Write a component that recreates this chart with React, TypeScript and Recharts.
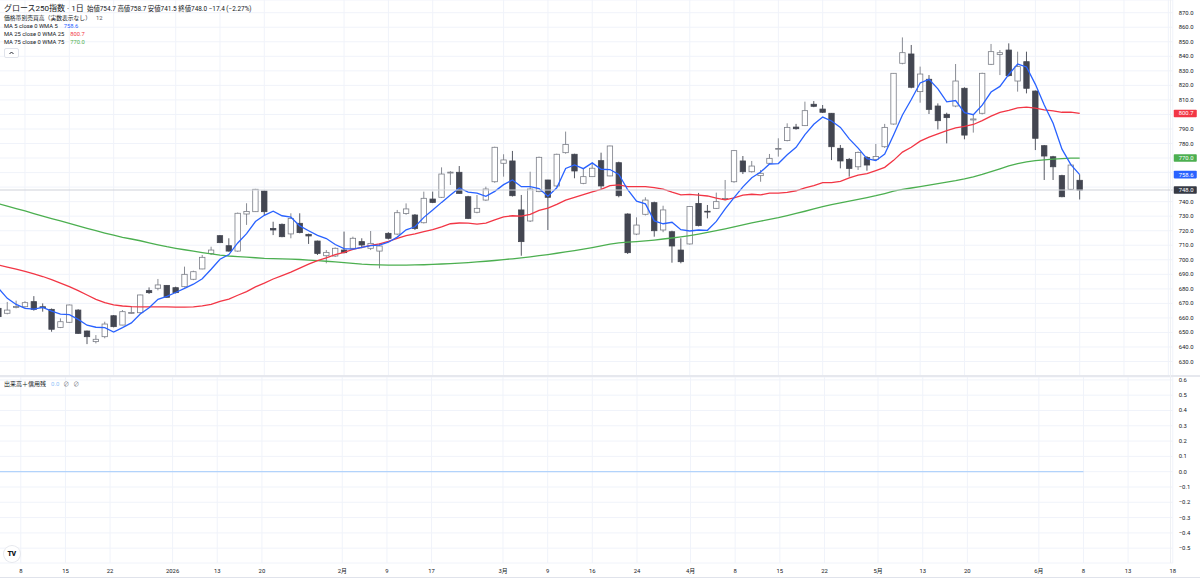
import React from 'react';
import {
  ComposedChart,
  Bar,
  Line,
  XAxis,
  YAxis,
  CartesianGrid,
  ReferenceLine
} from 'recharts';

// trading days shown on the chart
const decDays = [3, 4, 5, 8, 9, 10, 11, 12, 15, 16, 17, 18, 19, 22, 23, 24, 25, 26, 29, 30];
const janDays = [5, 6, 7, 8, 9, 13, 14, 15, 16, 19, 20, 21, 22, 23, 26, 27, 28, 29, 30];
const febDays = [2, 3, 4, 5, 6, 9, 10, 12, 13, 16, 17, 18, 19, 20, 24, 25, 26, 27];
const marDays = [2, 3, 4, 5, 6, 9, 10, 11, 12, 13, 16, 17, 18, 19, 23, 24, 25, 26, 27, 30, 31];
const aprDays = [1, 2, 3, 6, 7, 8, 9, 10, 13, 14, 15, 16, 17, 20, 21, 22, 23, 24, 27, 28, 30];
const mayDays = [1, 7, 8, 11, 12, 13, 14, 15, 18, 19, 20, 21, 22, 25, 26, 27, 28, 29];
const junDays = [1, 2, 3, 4, 5, 8];
const futureSlots = ['+1', '+2', '+3', '+4', '+5', '+6', '+7', '+8', '+9', '+10'];

const openP = [
  666.6, 663.2, 667.3, 667.7, 671.2, 667.7, 665.9, 653.5, 657.0, 665.4,
  651.0, 643.7, 647.1, 661.5, 655.1, 663.5, 663.6, 678.8, 680.4, 682.4,
  680.8, 681.5, 686.6, 693.7, 704.4, 716.6, 709.7, 706.0, 731.5, 733.1,
  747.3, 721.6, 724.4, 717.8, 725.1, 717.5, 712.9, 702.8, 702.6, 706.7,
  707.9, 712.5, 707.9, 706.0, 718.2, 717.7, 731.9, 730.8, 725.5, 741.8,
  743.0, 759.7, 760.2, 743.4, 732.7, 741.1, 753.7, 766.4, 768.0, 734.3,
  726.7, 746.9, 754.9, 750.8, 773.7, 772.6, 752.6, 757.2, 768.2, 757.7,
  766.8, 731.5, 717.7, 731.3, 739.3, 720.5, 719.3, 706.7, 710.9, 738.8,
  733.4, 735.4, 741.6, 753.7, 768.0, 760.6, 757.9, 766.4, 776.2, 782.0,
  791.3, 792.3, 807.0, 803.7, 800.8, 776.7, 769.1, 764.0, 770.3, 769.1,
  777.8, 793.4, 835.2, 841.6, 815.7, 824.2, 805.8, 800.1, 805.8, 818.0,
  796.2, 800.8, 834.5, 841.2, 844.3, 823.0, 836.3, 816.1, 778.5, 770.9,
  757.9, 748.5, 754.7
];
const highP = [
  668.0, 671.0, 671.9, 671.5, 675.0, 670.0, 666.5, 659.7, 669.2, 666.0,
  651.3, 648.2, 657.4, 662.0, 665.4, 668.2, 676.0, 681.0, 686.8, 682.6,
  681.5, 695.3, 692.5, 703.3, 709.0, 717.0, 714.8, 732.5, 738.9, 748.8,
  747.6, 726.2, 725.0, 732.0, 732.0, 718.0, 713.2, 706.7, 708.5, 719.4,
  715.9, 714.8, 719.8, 711.3, 719.0, 734.3, 738.8, 731.5, 746.9, 746.9,
  763.6, 761.0, 764.5, 744.0, 744.6, 750.3, 777.8, 772.6, 774.9, 744.6,
  760.6, 771.0, 755.0, 773.0, 788.2, 773.0, 763.0, 766.4, 773.7, 778.5,
  767.5, 732.0, 729.2, 743.0, 740.0, 737.2, 720.0, 714.8, 737.0, 746.0,
  737.7, 746.2, 754.9, 775.5, 771.4, 768.0, 761.8, 772.8, 783.6, 793.9,
  793.5, 808.8, 809.2, 806.5, 801.0, 779.0, 770.0, 774.5, 771.4, 779.7,
  793.5, 828.5, 853.0, 847.8, 832.9, 827.1, 807.6, 801.2, 834.7, 818.7,
  799.6, 828.7, 848.5, 844.3, 848.9, 843.2, 843.2, 816.5, 779.0, 771.5,
  758.5, 766.0, 758.7
];
const lowP = [
  659.0, 662.5, 666.6, 667.0, 665.0, 664.3, 650.5, 653.0, 656.5, 649.0,
  642.0, 642.5, 646.0, 653.5, 655.0, 662.7, 663.0, 676.5, 679.0, 674.0,
  676.8, 681.0, 686.0, 693.5, 703.3, 711.5, 705.6, 705.5, 724.0, 733.0,
  730.8, 717.0, 715.5, 714.8, 718.2, 710.9, 703.3, 697.6, 702.0, 704.4,
  706.7, 707.9, 706.7, 694.1, 714.0, 717.0, 731.0, 720.5, 725.0, 739.0,
  742.5, 751.5, 745.5, 728.0, 732.0, 740.5, 753.0, 757.2, 743.5, 702.8,
  726.0, 746.5, 720.5, 750.0, 773.0, 756.1, 752.0, 757.0, 748.0, 757.5,
  743.0, 704.0, 717.0, 730.5, 715.9, 719.0, 698.0, 697.6, 710.5, 723.0,
  728.5, 735.0, 741.0, 753.0, 759.0, 760.0, 753.7, 766.0, 771.0, 781.5,
  789.5, 792.0, 805.0, 801.0, 768.6, 762.9, 757.2, 761.8, 761.3, 768.6,
  777.0, 793.0, 834.5, 818.0, 808.1, 800.3, 789.7, 780.1, 805.0, 782.9,
  787.5, 800.0, 834.0, 827.1, 826.0, 815.7, 814.5, 775.5, 754.9, 754.9,
  743.0, 748.0, 741.5
];
const closeP = [
  660.9, 665.4, 667.8, 670.5, 665.9, 667.0, 652.2, 657.4, 668.9, 649.4,
  647.1, 645.3, 655.8, 654.0, 664.3, 663.7, 675.8, 677.4, 682.7, 674.2,
  677.4, 690.0, 691.8, 701.7, 706.7, 711.8, 706.0, 732.0, 733.3, 748.5,
  733.1, 720.5, 715.9, 728.5, 718.7, 716.4, 704.4, 705.1, 707.9, 704.9,
  714.8, 710.2, 711.3, 709.5, 714.8, 732.4, 735.0, 721.6, 742.3, 739.5,
  759.0, 760.3, 745.7, 728.5, 735.4, 748.7, 777.4, 768.7, 744.1, 712.5,
  748.7, 770.5, 743.0, 772.6, 779.4, 761.1, 757.2, 763.0, 750.8, 778.3,
  744.1, 704.9, 723.9, 741.1, 720.0, 734.3, 709.5, 698.7, 736.6, 723.5,
  733.0, 740.0, 742.2, 775.1, 760.6, 764.5, 759.5, 769.8, 776.6, 791.1,
  790.2, 802.6, 805.6, 801.5, 777.8, 768.0, 762.9, 773.9, 765.2, 771.0,
  791.1, 828.3, 842.5, 818.7, 827.8, 803.5, 795.7, 797.8, 823.0, 785.8,
  796.9, 828.3, 843.2, 842.5, 826.7, 832.9, 818.0, 783.6, 771.4, 764.0,
  743.4, 765.2, 748.0
];
const ma5 = [
  680.4, 673.5, 669.3, 666.6, 666.1, 667.3, 664.7, 662.6, 662.3, 659.0,
  655.0, 653.6, 653.3, 650.3, 653.3, 656.6, 662.7, 667.0, 672.8, 674.8,
  677.5, 680.3, 683.2, 687.0, 693.5, 700.4, 703.6, 711.6, 718.0, 726.3,
  730.6, 733.5, 730.3, 729.3, 723.3, 720.0, 716.8, 714.6, 710.5, 707.7,
  707.4, 708.6, 709.8, 710.1, 712.1, 715.6, 720.6, 722.7, 729.2, 734.2,
  739.5, 744.5, 749.4, 746.6, 745.8, 743.7, 747.1, 751.7, 754.9, 750.3,
  750.3, 748.9, 743.8, 749.5, 762.8, 765.3, 762.7, 766.7, 762.3, 762.1,
  758.7, 748.2, 740.4, 738.5, 726.8, 724.8, 725.8, 720.7, 719.8, 720.5,
  720.3, 726.4, 735.1, 742.8, 750.2, 756.5, 760.4, 765.9, 766.2, 772.3,
  777.4, 786.1, 793.2, 798.2, 795.5, 791.1, 783.2, 776.8, 769.6, 768.2,
  772.8, 785.9, 799.6, 810.3, 821.7, 824.2, 817.6, 808.7, 809.6, 801.2,
  799.8, 806.4, 815.4, 819.3, 827.5, 834.7, 832.7, 820.7, 806.5, 794.0,
  776.1, 765.5, 758.6
];
const ma25 = [
  696.4, 695.0, 693.5, 692.0, 690.3, 688.5, 686.3, 684.0, 681.5, 678.8,
  675.8, 672.8, 670.5, 669.0, 668.2, 667.8, 667.6, 667.6, 667.6, 667.6,
  667.5, 667.4, 667.6, 668.3, 669.3, 671.4, 673.0, 675.6, 678.1, 681.4,
  684.0, 686.8, 689.1, 691.5, 694.3, 697.0, 699.4, 701.4, 703.5, 705.1,
  707.2, 708.6, 709.9, 711.0, 712.6, 714.8, 716.6, 717.8, 719.4, 720.7,
  722.6, 724.8, 725.3, 725.2, 724.6, 725.3, 727.5, 729.6, 730.3, 730.0,
  731.3, 734.0, 735.5, 738.1, 741.0, 742.9, 744.8, 746.8, 748.5, 751.0,
  751.5, 750.3, 750.4, 750.3, 749.6, 748.6, 746.5, 744.7, 745.0, 744.5,
  743.9, 742.4, 741.3, 742.6, 744.5, 745.1, 744.7, 745.8, 745.9, 746.4,
  747.5, 749.4, 751.1, 753.1, 753.1, 754.0, 756.3, 758.3, 759.3, 761.4,
  763.6, 768.4, 774.1, 777.4, 781.6, 784.4, 786.6, 788.9, 790.8, 791.8,
  793.1, 795.8, 798.8, 801.4, 802.8, 804.5, 805.1, 804.3, 803.1, 802.5,
  801.5, 801.6, 800.7
];
const ma75 = [
  738.6, 736.9, 735.2, 733.6, 731.8, 730.1, 728.4, 726.7, 725.0, 723.4,
  721.7, 720.0, 718.4, 716.9, 715.4, 714.3, 713.1, 711.7, 710.3, 709.0,
  707.9, 706.9, 705.9, 704.9, 704.0, 703.2, 702.6, 702.2, 701.8, 701.4,
  701.0, 700.8, 700.6, 700.4, 700.2, 699.8, 699.4, 699.0, 698.5, 698.0,
  697.5, 697.0, 696.7, 696.5, 696.4, 696.4, 696.4, 696.5, 696.6, 696.8,
  697.1, 697.4, 697.7, 698.1, 698.5, 699.0, 699.5, 700.1, 700.7, 701.3,
  702.0, 702.8, 703.6, 704.5, 705.4, 706.3, 707.3, 708.4, 709.6, 710.8,
  711.6, 712.1, 712.5, 713.0, 713.6, 714.3, 715.0, 715.8, 716.7, 717.7,
  718.8, 720.0, 721.3, 722.7, 724.1, 725.4, 726.6, 727.8, 729.0, 730.4,
  731.9, 733.4, 735.0, 736.5, 737.9, 739.2, 740.4, 741.6, 742.8, 744.1,
  745.6, 747.2, 748.4, 749.4, 750.4, 751.4, 752.4, 753.4, 754.4, 755.6,
  757.0, 758.7, 760.7, 762.6, 764.6, 766.2, 767.4, 768.2, 768.8, 769.2,
  769.6, 769.9, 770.0
];

const xTickLabels: [string, string][] = [
  ['2025-12-8', '8'], ['2025-12-15', '15'], ['2025-12-22', '22'], ['2026-1-5', '2026'],
  ['2026-1-13', '13'], ['2026-1-20', '20'], ['2026-2-2', '2月'], ['2026-2-9', '9'],
  ['2026-2-17', '17'], ['2026-3-2', '3月'], ['2026-3-9', '9'], ['2026-3-16', '16'],
  ['2026-3-24', '24'], ['2026-4-1', '4月'], ['2026-4-8', '8'], ['2026-4-15', '15'],
  ['2026-4-22', '22'], ['2026-5-1', '5月'], ['2026-5-13', '13'], ['2026-5-20', '20'],
  ['2026-6-1', '6月'], ['2026-6-8', '8'], ['+5', '13'], ['+10', '18']
];
const priceTicks = [630, 640, 650, 660, 670, 680, 690, 700, 710, 720, 730, 740, 750,
  760, 770, 780, 790, 800, 810, 820, 830, 840, 850, 860, 870];
const volTicks = [0.6, 0.5, 0.4, 0.3, 0.2, 0.1, 0, -0.1, -0.2, -0.3, -0.4, -0.5];

const dates = [
  ...decDays.map((d) => `2025-12-${d}`),
  ...janDays.map((d) => `2026-1-${d}`),
  ...febDays.map((d) => `2026-2-${d}`),
  ...marDays.map((d) => `2026-3-${d}`),
  ...aprDays.map((d) => `2026-4-${d}`),
  ...mayDays.map((d) => `2026-5-${d}`),
  ...junDays.map((d) => `2026-6-${d}`)
];

const rows = [...dates, ...futureSlots].map((d, i) =>
  i < dates.length
    ? {
        d,
        range: [lowP[i], highP[i]],
        o: openP[i],
        h: highP[i],
        l: lowP[i],
        c: closeP[i],
        ma5: ma5[i],
        ma25: ma25[i],
        ma75: ma75[i],
        vol: 0
      }
    : { d }
);

const tickMap: Record<string, string> = Object.fromEntries(xTickLabels);
const tickKeys = xTickLabels.map((t) => t[0]);
const last = dates.length - 1;
// axis tags sit on top of these levels, the scale labels under them are hidden
const tagValues = [ma25[last], ma75[last], ma5[last], closeP[last]];

// layout (page px)
const BAR = 8.863;
const SHIFT = 5.78;
const PLOT_W = rows.length * BAR;
const AXIS_W = 40;
const CHART_W = PLOT_W + AXIS_W;
const MAIN_H = 376;
const LOW_TOP = 377;
const LOW_H = 203;
const BODY = 5.4;

const FONT = 'Roboto, "Noto Sans CJK JP", sans-serif';
const TXT = '#131722';
const BLUE = '#2962ff';
const RED = '#f23645';
const GREEN = '#4caf50';
const GRID = '#f0f3fa';

function Candle(props: any) {
  const { x, y, width, height, payload } = props;
  if (!payload || payload.o == null || !isFinite(y)) return null;
  const cx = x + width / 2;
  const span = payload.h - payload.l;
  const k = span > 0 ? height / span : 0;
  const yO = y + (payload.h - payload.o) * k;
  const yC = y + (payload.h - payload.c) * k;
  const up = payload.c >= payload.o;
  const col = up ? '#7b7e87' : '#434651';
  const top = Math.min(yO, yC);
  const bh = Math.max(Math.abs(yO - yC), 0.8);
  return (
    <g>
      <line x1={cx} x2={cx} y1={y} y2={y + height} stroke={col} strokeWidth={0.9} />
      <rect
        x={cx - BODY / 2}
        y={top}
        width={BODY}
        height={bh}
        fill={up ? '#ffffff' : '#434651'}
        stroke={col}
        strokeWidth={0.8}
      />
    </g>
  );
}

function PriceTick({ y, payload }: any) {
  const v = Number(payload.value);
  if (tagValues.some((t) => Math.abs(t - v) < 5.5)) return null;
  return (
    <text x={1179 + SHIFT} y={y} dominantBaseline="central" fontSize={5.9} fill={TXT} fontFamily={FONT}>
      {v.toFixed(1)}
    </text>
  );
}

function VolTick({ y, payload }: any) {
  const v = Number(payload.value);
  const s = v < 0 ? '\u2212' + Math.abs(v).toFixed(1) : v.toFixed(1);
  return (
    <text x={1179 + SHIFT} y={y} dominantBaseline="central" fontSize={5.9} fill={TXT} fontFamily={FONT}>
      {s}
    </text>
  );
}

function DateTick({ x, payload }: any) {
  return (
    <text x={x} y={193.7} textAnchor="middle" dominantBaseline="central" fontSize={5.9} fill={TXT} fontFamily={FONT}>
      {tickMap[payload.value]}
    </text>
  );
}

function PriceTag({ viewBox, text, color }: any) {
  if (!viewBox) return null;
  const right = viewBox.x + viewBox.width;
  return (
    <g>
      <rect x={right + 1} y={viewBox.y - 3.8} width={23} height={7.6} rx={0.8} fill={color} />
      <text x={right + 6} y={viewBox.y} dominantBaseline="central" fontSize={5.9} fill="#ffffff" fontFamily={FONT}>
        {text}
      </text>
    </g>
  );
}

const abs = (left: number, top: number, extra: React.CSSProperties = {}): React.CSSProperties => ({
  position: 'absolute',
  left,
  top,
  whiteSpace: 'nowrap',
  ...extra
});

export default function App() {
  return (
    <div
      style={{
        position: 'absolute',
        left: 0,
        top: 0,
        width: 1200,
        height: 580,
        overflow: 'hidden',
        background: '#ffffff',
        fontFamily: FONT,
        color: TXT
      }}
    >
      <div style={abs(-SHIFT, 0)}>
        <ComposedChart width={CHART_W} height={MAIN_H} data={rows} margin={{ top: 0, right: 0, bottom: 0, left: 0 }}>
          <CartesianGrid stroke={GRID} strokeWidth={1} />
          <XAxis dataKey="d" hide ticks={tickKeys} interval={0} />
          <YAxis
            orientation="right"
            width={AXIS_W}
            domain={[620.05, 878.74]}
            ticks={priceTicks}
            interval={0}
            allowDataOverflow
            axisLine={false}
            tickLine={false}
            tick={<PriceTick />}
          />
          <Bar dataKey="range" isAnimationActive={false} shape={(p: any) => <Candle {...p} />} />
          <Line type="linear" dataKey="ma75" stroke={GREEN} strokeWidth={1.3} dot={false} activeDot={false} isAnimationActive={false} />
          <Line type="linear" dataKey="ma25" stroke={RED} strokeWidth={1.3} dot={false} activeDot={false} isAnimationActive={false} />
          <Line type="linear" dataKey="ma5" stroke={BLUE} strokeWidth={1.3} dot={false} activeDot={false} isAnimationActive={false} />
          <ReferenceLine
            y={ma25[last]}
            strokeOpacity={0}
            label={<PriceTag text={ma25[last].toFixed(1)} color={RED} />}
          />
          <ReferenceLine
            y={ma75[last]}
            strokeOpacity={0}
            label={<PriceTag text={ma75[last].toFixed(1)} color={GREEN} />}
          />
          <ReferenceLine
            y={ma5[last]}
            strokeOpacity={0}
            label={<PriceTag text={ma5[last].toFixed(1)} color={BLUE} />}
          />
          <ReferenceLine
            y={closeP[last]}
            stroke="#cfd2d9"
            strokeWidth={1}
            label={<PriceTag text={closeP[last].toFixed(1)} color="#363a45" />}
          />
        </ComposedChart>
      </div>

      <div style={abs(0, 375, { width: 1200, height: 2, background: '#e6e8ee' })} />

      <div style={abs(-SHIFT, LOW_TOP)}>
        <ComposedChart width={CHART_W} height={LOW_H} data={rows} margin={{ top: 0, right: 0, bottom: 0, left: 0 }}>
          <CartesianGrid stroke={GRID} strokeWidth={1} />
          <XAxis
            dataKey="d"
            ticks={tickKeys}
            interval={0}
            height={17}
            axisLine={false}
            tickLine={false}
            tick={<DateTick />}
          />
          <YAxis
            orientation="right"
            width={AXIS_W}
            domain={[-0.597, 0.619]}
            ticks={volTicks}
            interval={0}
            allowDataOverflow
            axisLine={false}
            tickLine={false}
            tick={<VolTick />}
          />
          <Line type="linear" dataKey="vol" stroke="#b2d3fb" strokeWidth={1.2} dot={false} activeDot={false} isAnimationActive={false} />
        </ComposedChart>
      </div>

      <div style={abs(1170, 0, { width: 1, height: 563, background: '#eef0f4' })} />
      <div style={abs(0, 577, { width: 1200, height: 1, background: '#e0e3eb' })} />

      {/* header legend */}
      <div style={abs(4, 3.5, { fontSize: 8, lineHeight: '10px' })}>グロース250指数 · 1日</div>
      <div style={abs(87, 4, { fontSize: 6.4, lineHeight: '10px' })}>
        始値754.7 高値758.7 安値741.5 終値748.0 −17.4 (−2.27%)
      </div>
      <div style={abs(4, 14.3, { fontSize: 5.8, lineHeight: '8px' })}>
        価格帯別売買高（実数表示なし）<span style={{ marginLeft: 5, color: '#555' }}>12</span>
      </div>
      <div style={abs(4, 22.3, { fontSize: 5.8, lineHeight: '8px' })}>
        MA 5 close 0 WMA 5<span style={{ marginLeft: 6, color: BLUE }}>{ma5[last].toFixed(1)}</span>
      </div>
      <div style={abs(4, 30.3, { fontSize: 5.8, lineHeight: '8px' })}>
        MA 25 close 0 WMA 25<span style={{ marginLeft: 6, color: RED }}>{ma25[last].toFixed(1)}</span>
      </div>
      <div style={abs(4, 38.3, { fontSize: 5.8, lineHeight: '8px' })}>
        MA 75 close 0 WMA 75<span style={{ marginLeft: 6, color: GREEN }}>{ma75[last].toFixed(1)}</span>
      </div>
      <div
        style={abs(4, 48, {
          width: 13,
          height: 8,
          border: '1px solid #e0e3eb',
          borderRadius: 2,
          background: '#fff'
        })}
      >
        <svg width={13} height={8} style={{ display: 'block' }}>
          <polyline points="4.5,5 6.5,3 8.5,5" fill="none" stroke={TXT} strokeWidth={0.9} />
        </svg>
      </div>

      {/* lower pane legend */}
      <div style={abs(4, 379.5, { fontSize: 6, lineHeight: '8px' })}>
        出来高＋信用残<span style={{ marginLeft: 5, color: '#90bff9' }}>0.0</span>
        <span style={{ marginLeft: 4, color: '#787b86' }}>∅</span>
        <span style={{ marginLeft: 4, color: '#787b86' }}>∅</span>
      </div>

      {/* logo */}
      <div
        style={abs(3.5, 546, {
          width: 16,
          height: 16,
          borderRadius: '50%',
          background: '#fff',
          boxShadow: '0 0 0 1px #e6e8ee',
          fontSize: 7,
          fontWeight: 900,
          lineHeight: '16px',
          textAlign: 'center',
          letterSpacing: -0.6
        })}
      >
        TV
      </div>
    </div>
  );
}
